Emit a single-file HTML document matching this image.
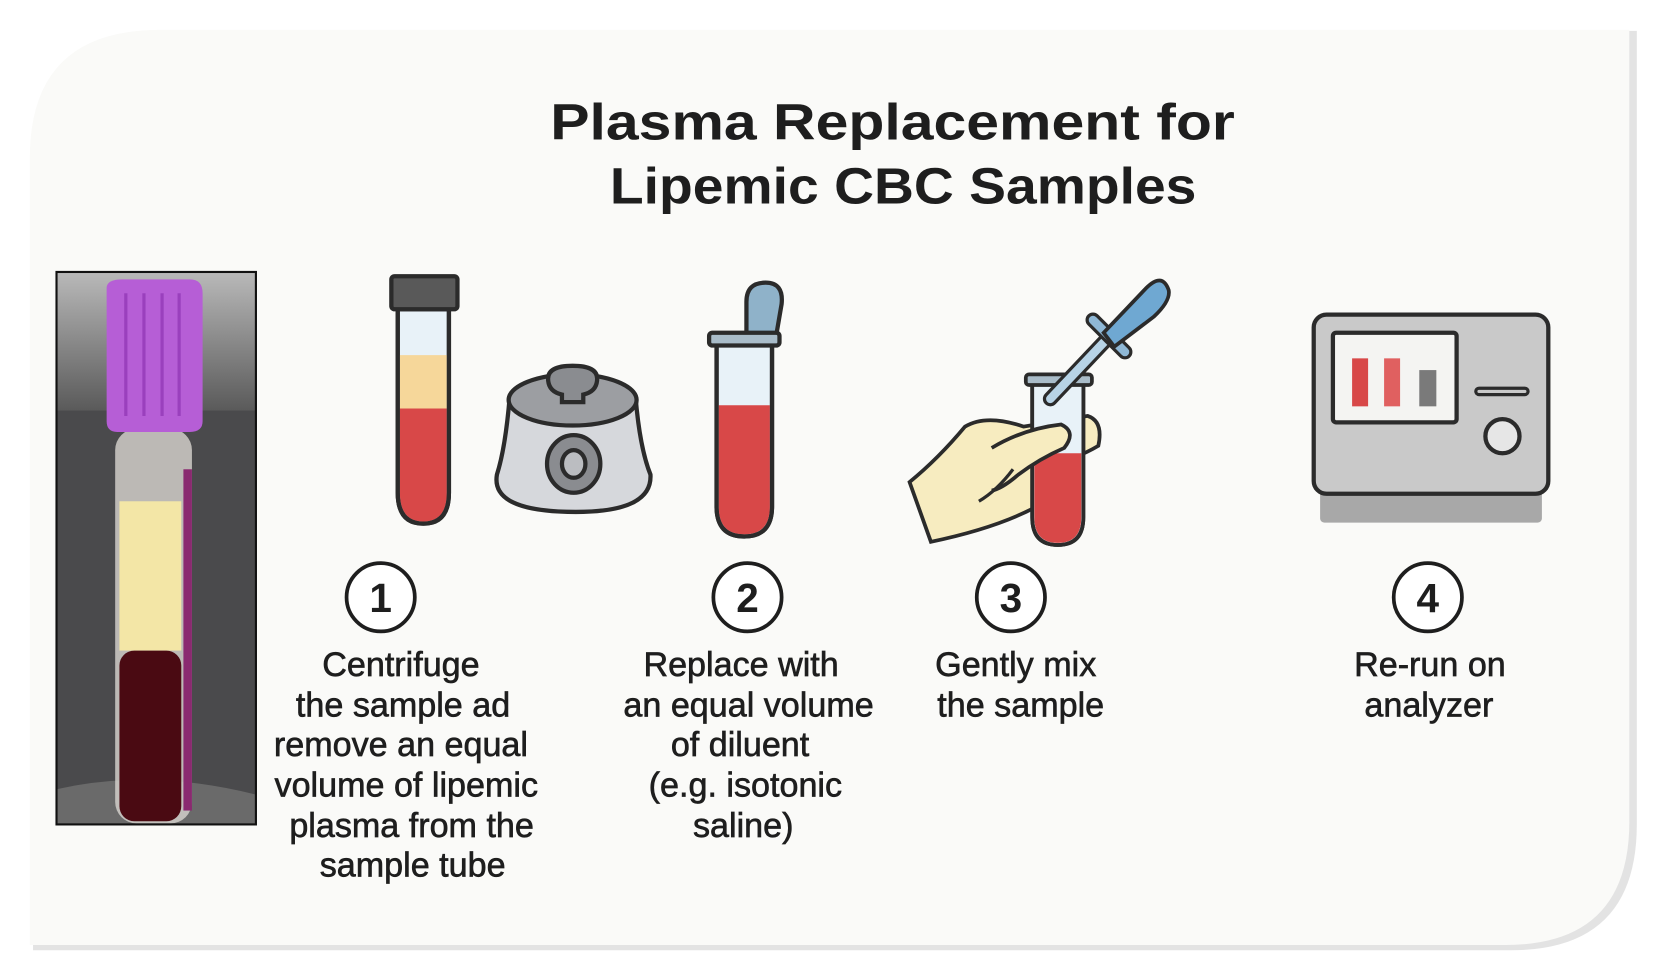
<!DOCTYPE html>
<html><head><meta charset="utf-8"><style>
html,body{margin:0;padding:0;background:#fff;width:1672px;height:978px;overflow:hidden}
svg{display:block}
text{font-family:"Liberation Sans",sans-serif;fill:#1e1e1e}
</style></head><body>
<svg width="1672" height="978" viewBox="0 0 1568 917" preserveAspectRatio="none">
<defs>
<linearGradient id="bg" x1="0" y1="0" x2="0" y2="1"><stop offset="0" stop-color="#b9b9b9"/><stop offset="1" stop-color="#5a5a5a"/></linearGradient>
</defs>
<rect width="1568" height="917" fill="#fff"/>
<!-- card -->
<path d="M150 26 H1532 V770 Q1532 888 1414 888 H28 V148 Q28 26 150 26 Z" fill="#e3e3e3" transform="translate(3,3)"/>
<path d="M150 28 H1528 V770 Q1528 886 1412 886 H28 V148 Q28 28 150 28 Z" fill="#fafaf8"/>
<!-- title -->
<text x="516" y="131" font-size="48" font-weight="bold" textLength="642" lengthAdjust="spacingAndGlyphs">Plasma Replacement   for</text>
<text x="572" y="191" font-size="48" font-weight="bold" textLength="550" lengthAdjust="spacingAndGlyphs">Lipemic CBC Samples</text>
<!-- tube 1 -->
<g stroke="#2b2b2b" stroke-width="4">
<path d="M373 290 V462 Q373 491 397 491 Q421 491 421 462 V290Z" fill="#e8f2f8"/>
<path d="M375 333 H419 V383 H375Z" fill="#f6d79a" stroke="none"/>
<path d="M375 383 H419 V462 Q419 489 397 489 Q375 489 375 462Z" fill="#d84848" stroke="none"/>
<path d="M373 290 V462 Q373 491 397 491 Q421 491 421 462 V290" fill="none"/>
<rect x="367" y="259" width="62" height="31" rx="3" fill="#595959"/>
</g>
<!-- centrifuge -->
<g stroke="#2b2b2b" stroke-width="4">
<path d="M478 372 Q474 420 466 445 Q460 480 540 480 Q612 480 610 445 Q600 420 596 372Z" fill="#d6d8dc"/>
<ellipse cx="537" cy="375" rx="60" ry="24" fill="#9c9ea2"/>
<path d="M514 355 Q514 343 537 343 Q560 343 560 355 Q560 367 547 370 V377 H527 V370 Q514 367 514 355Z" fill="#8a8c90"/>
<ellipse cx="538" cy="435" rx="25" ry="27" fill="#8a8c90"/>
<ellipse cx="538" cy="435" rx="11" ry="13" fill="#bbbdc1"/>
</g>
<!-- tube 2 -->
<g stroke="#2b2b2b" stroke-width="4">
<path d="M700 320 V283 Q700 265 718 265 Q735 265 733 285 L727 320Z" fill="#8fb2c9"/>
<path d="M672 322 V475 Q672 503 698 503 Q724 503 724 475 V322Z" fill="#e8f2f8"/>
<path d="M674 380 H722 V475 Q722 501 698 501 Q674 501 674 475Z" fill="#d84848" stroke="none"/>
<path d="M672 322 V475 Q672 503 698 503 Q724 503 724 475 V322" fill="none"/>
<rect x="665" y="312" width="66" height="12" rx="3" fill="#a9bcc9"/>
</g>
<!-- hand + tube 3 -->
<g stroke="#2b2b2b" stroke-width="3.5">
<path d="M853 452 Q880 430 905 400 Q925 388 960 400 L1020 390 Q1035 395 1030 418 Q1010 430 975 440 L972 475 Q935 495 873 508 Z" fill="#f7ecc0"/>
<path d="M968 360 V485 Q968 511 992 511 Q1016 511 1016 485 V360Z" fill="#e8f2f8"/>
<path d="M970 425 H1014 V485 Q1014 509 992 509 Q970 509 970 485Z" fill="#d84848" stroke="none"/>
<path d="M968 360 V485 Q968 511 992 511 Q1016 511 1016 485 V360" fill="none"/>
<rect x="962" y="351" width="62" height="10" rx="3" fill="#a9bcc9"/>
<path d="M930 420 Q960 402 995 398 Q1010 405 998 420 Q975 430 955 445 Q940 458 930 460" fill="#f7ecc0"/>
<path d="M918 470 Q935 460 950 440" fill="none" stroke-width="3"/>
<path d="M985 374 L1055 300" stroke-width="14" stroke-linecap="round"/>
<path d="M985 374 L1055 300" stroke="#b7d3e6" stroke-width="8" stroke-linecap="round"/>
<path d="M1025 300 L1055 330" stroke-width="14" stroke-linecap="round"/>
<path d="M1025 300 L1055 330" stroke="#8fb8d6" stroke-width="8" stroke-linecap="round"/>
<path d="M1035 312 L1075 270 Q1090 255 1096 272 Q1098 282 1082 297 L1045 325Z" fill="#6fa8d2"/>
</g>
<!-- analyzer -->
<g stroke="#2b2b2b" stroke-width="4">
<rect x="1238" y="455" width="208" height="35" rx="4" fill="#a8a8a8" stroke="none"/>
<rect x="1232" y="295" width="220" height="168" rx="12" fill="#c9c9c9"/>
<rect x="1250" y="312" width="116" height="84" rx="3" fill="#f4f4f2"/>
<line x1="1387" y1="367" x2="1430" y2="367" stroke-width="9" stroke-linecap="round"/>
<line x1="1387" y1="367" x2="1430" y2="367" stroke="#c9c9c9" stroke-width="3" stroke-linecap="round"/>
<circle cx="1409" cy="409" r="16" fill="#e6e6e6"/>
</g>
<rect x="1268" y="336" width="15" height="45" fill="#d84848"/>
<rect x="1298" y="336" width="15" height="45" fill="#e06060"/>
<rect x="1331" y="347" width="16" height="34" fill="#7a7a7a"/>
<!-- numbers -->
<g stroke="#1e1e1e" stroke-width="3.5" fill="#fff">
<circle cx="357" cy="560" r="32"/><circle cx="701" cy="560" r="32"/><circle cx="948" cy="560" r="32"/><circle cx="1339" cy="560" r="32"/>
</g>
<g font-size="38" font-weight="bold" text-anchor="middle">
<text x="357" y="574">1</text><text x="701" y="574">2</text><text x="948" y="574">3</text><text x="1339" y="574">4</text>
</g>
<g font-size="32" text-anchor="middle" stroke="#1e1e1e" stroke-width="0.6">
<text x="376" y="634">Centrifuge</text>
<text x="378" y="672">the sample ad</text>
<text x="376" y="709">remove an equal</text>
<text x="381" y="747">volume of lipemic</text>
<text x="386" y="785">plasma from the</text>
<text x="387" y="822">sample tube</text>
<text x="695" y="634">Replace with</text>
<text x="702" y="672">an equal volume</text>
<text x="694" y="709">of diluent</text>
<text x="699" y="747">(e.g. isotonic</text>
<text x="697" y="785">saline)</text>
<text x="1341" y="634">Re-run on</text>
<text x="1340" y="672">analyzer</text>
</g>
<g font-size="32" stroke="#1e1e1e" stroke-width="0.6">
<text x="877" y="634">Gently mix</text>
<text x="879" y="672">the sample</text>
</g>
<!-- photo -->
<rect x="53" y="255" width="187" height="518" fill="#555"/>
<rect x="53" y="255" width="187" height="130" fill="url(#bg)"/>
<rect x="53" y="385" width="187" height="388" fill="#4a4a4c"/>
<path d="M53 740 Q140 720 240 745 V773 H53Z" fill="#6a6a6a"/>
<rect x="108" y="402" width="72" height="370" rx="20" fill="#d8d4cf" opacity=".8"/>
<rect x="112" y="470" width="58" height="140" fill="#f3e6a6"/>
<rect x="112" y="610" width="58" height="160" rx="14" fill="#4a0a12"/>
<rect x="172" y="440" width="8" height="320" fill="#8a2a70"/>
<path d="M100 270 Q100 262 115 262 H178 Q190 262 190 275 V395 Q190 405 178 405 H110 Q100 405 100 395Z" fill="#b65ed6"/>
<g stroke="#9a40bd" stroke-width="3"><line x1="118" y1="275" x2="118" y2="390"/><line x1="135" y1="275" x2="135" y2="390"/><line x1="152" y1="275" x2="152" y2="390"/><line x1="168" y1="275" x2="168" y2="390"/></g>
<rect x="53" y="255" width="187" height="518" fill="none" stroke="#111" stroke-width="2"/>
</svg>
</body></html>
